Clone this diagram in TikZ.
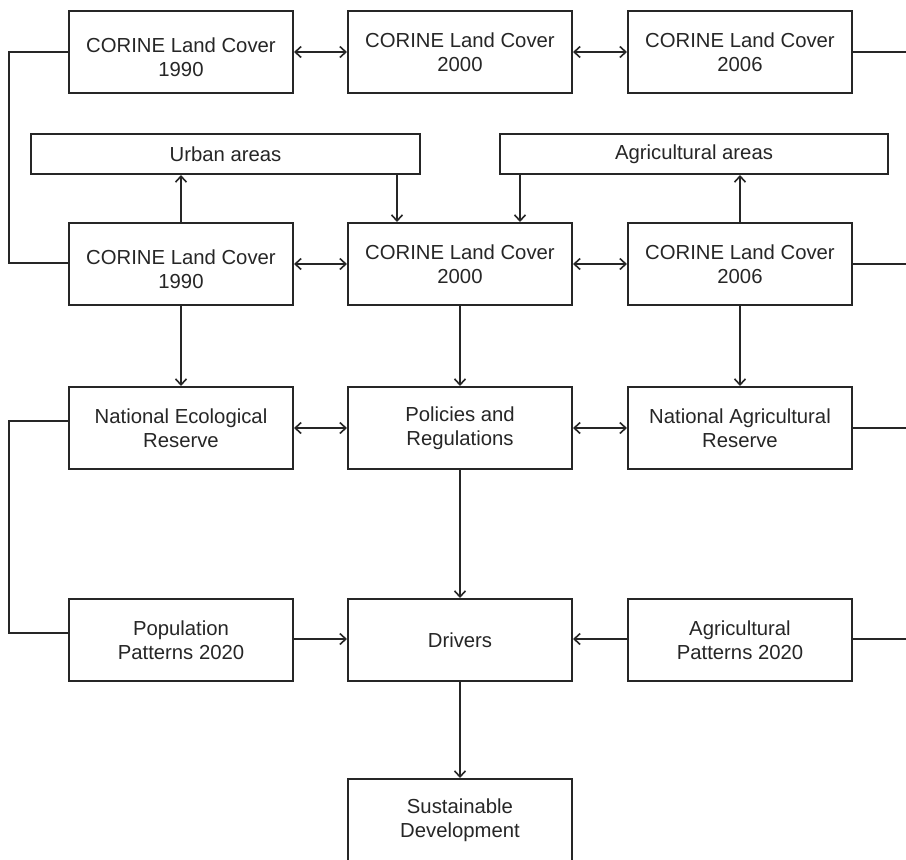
\documentclass[tikz,border=0pt]{standalone}
\usepackage{fontspec}
\setmainfont{Liberation Sans}
\usetikzlibrary{arrows.meta}
\definecolor{ink}{HTML}{262626}
\begin{document}
\begin{tikzpicture}[x=1pt,y=-1pt,
  txt/.style={inner sep=0pt, align=center, text=ink, font=\fontsize{20.3}{23.5}\selectfont},
  box/.style={txt, draw=ink, line width=2pt, minimum width=224pt, minimum height=82pt},
  lowlbl/.style={label={[txt, yshift=-5pt]center:#1}},
  wide/.style={txt, draw=ink, line width=2pt, minimum height=40pt},
  conn/.style={draw=ink, line width=2pt},
  arr/.style={conn, -{Straight Barb[length=6pt,width=11pt,line width=1.6pt]}},
  darr/.style={conn, {Straight Barb[length=6pt,width=11pt,line width=1.6pt]}-{Straight Barb[length=6pt,width=11pt,line width=1.6pt]}}]
\useasboundingbox (0,0) rectangle (906,860);
\fill[white] (0,0) rectangle (906,860);
% row 1
\node[box, lowlbl={CORINE Land Cover\\1990}] (a1) at (181,52) {};
\node[box] (a2) at (460,52) {CORINE Land Cover\\2000};
\node[box] (a3) at (740,52) {CORINE Land Cover\\2006};
% category boxes
\node[wide, minimum width=389pt] (urb) at (225.5,154) {Urban areas};
\node[wide, minimum width=388pt] (agr) at (694,154) {Agricultural areas};
% row 2
\node[box, lowlbl={CORINE Land Cover\\1990}] (b1) at (181,264) {};
\node[box] (b2) at (460,264) {CORINE Land Cover\\2000};
\node[box] (b3) at (740,264) {CORINE Land Cover\\2006};
% row 3
\node[box] (c1) at (181,428) {National Ecological\\Reserve};
\node[box] (c2) at (460,428) {Policies and\\Regulations};
\node[box] (c3) at (740,428) {National Agricultural\\Reserve};
% row 4
\node[box] (d1) at (181,640) {Population\\Patterns 2020};
\node[box] (d2) at (460,640) {Drivers};
\node[box] (d3) at (740,640) {Agricultural\\Patterns 2020};
% row 5
\node[box] (e2) at (460,820) {Sustainable\\Development};
% free ends
\coordinate (ra) at (906,52);
\coordinate (rb) at (906,264);
\coordinate (rc) at (906,428);
\coordinate (rd) at (906,639);
\coordinate (la) at (9,52);
\coordinate (lb) at (9,263);
\coordinate (lc) at (9,421);
\coordinate (ld) at (9,633);
% horizontal double arrows
\draw[darr] (a1.east) -- (a2.west);
\draw[darr] (a2.east) -- (a3.west);
\draw[darr] (b1.east) -- (b2.west);
\draw[darr] (b2.east) -- (b3.west);
\draw[darr] (c1.east |- rc) -- (c2.west |- rc);
\draw[darr] (c2.east |- rc) -- (c3.west |- rc);
% left loops
\draw[conn] (a1.west) -- (la) -- (lb) -- (b1.west |- lb);
\draw[conn] (c1.west |- lc) -- (lc) -- (ld) -- (d1.west |- ld);
% right lines
\draw[conn] (a3.east) -- (ra);
\draw[conn] (b3.east) -- (rb);
\draw[conn] (c3.east |- rc) -- (rc);
\draw[conn] (d3.east |- rd) -- (rd);
% category arrows
\draw[arr] (b1.north) -- (b1.north |- urb.south);
\draw[arr] (urb.south -| 397,0) -- (b2.north -| 397,0);
\draw[arr] (agr.south -| 520,0) -- (b2.north -| 520,0);
\draw[arr] (b3.north) -- (b3.north |- agr.south);
% vertical arrows
\draw[arr] (b1.south) -- (c1.north);
\draw[arr] (b2.south) -- (c2.north);
\draw[arr] (b3.south) -- (c3.north);
\draw[arr] (c2.south) -- (d2.north);
\draw[arr] (d2.south) -- (e2.north);
% drivers inputs
\draw[arr] (d1.east |- rd) -- (d2.west |- rd);
\draw[arr] (d3.west |- rd) -- (d2.east |- rd);
\end{tikzpicture}
\end{document}
